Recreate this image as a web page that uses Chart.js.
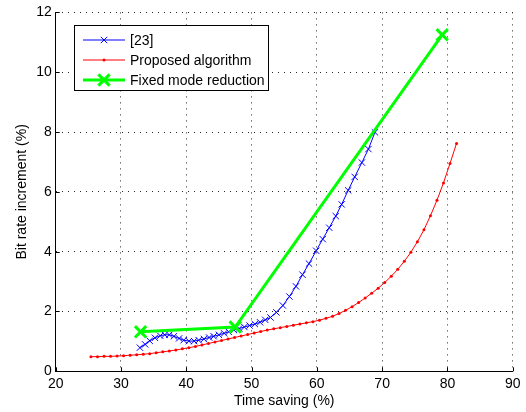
<!DOCTYPE html>
<html>
<head>
<meta charset="utf-8">
<script src="https://cdn.jsdelivr.net/npm/chart.js@4.4.1/dist/chart.umd.min.js"></script>
<style>
html, body { margin: 0; padding: 0; background: #fff; }
</style>
</head>
<body>
<canvas id="myChart" width="526" height="412"></canvas>
<script>
// data
var xTicks = [20, 30, 40, 50, 60, 70, 80, 90];
var yTicks = [0, 2, 4, 6, 8, 10, 12];

var labels1 = ['[23]', 'Proposed algorithm', 'Fixed mode reduction'];

var blueX = [32.9, 33.7, 34.4, 35.2, 36.0, 36.7, 37.4, 38.1, 38.9, 39.6, 40.4, 41.2, 41.9, 42.7, 43.5,
             44.2, 45.0, 45.8, 46.5, 47.3, 48.1, 48.9, 49.7, 50.5, 51.3, 52.1, 52.9, 53.8, 54.8, 55.8,
             56.8, 57.8, 58.8, 59.9, 60.9, 61.9, 62.9, 63.8, 64.8, 65.8, 66.9, 67.9, 68.9];
var blueY = [0.79, 0.90, 1.02, 1.12, 1.19, 1.22, 1.22, 1.17, 1.10, 1.04, 1.01, 1.01, 1.04, 1.08, 1.13,
             1.17, 1.22, 1.27, 1.32, 1.38, 1.43, 1.48, 1.53, 1.58, 1.64, 1.72, 1.80, 1.97, 2.20, 2.50,
             2.84, 3.23, 3.60, 4.03, 4.42, 4.80, 5.19, 5.58, 6.05, 6.50, 6.98, 7.43, 7.99];

var redX = [25.4, 26.4, 27.4, 28.4, 29.4, 30.4, 31.4, 32.4, 33.4, 34.4, 35.4, 36.4, 37.4, 38.4, 39.4,
            40.4, 41.4, 42.4, 43.4, 44.4, 45.4, 46.4, 47.4, 48.4, 49.4, 50.4, 51.4, 52.4, 53.4, 54.4,
            55.4, 56.4, 57.4, 58.4, 59.4, 60.4, 61.4, 62.4, 63.4, 64.4, 65.4, 66.4, 67.4, 68.4, 69.4,
            70.4, 71.4, 72.4, 73.4, 74.4, 75.4, 76.4, 77.4, 78.4, 79.4, 80.4, 81.4];
var redY = [0.49, 0.49, 0.50, 0.50, 0.51, 0.52, 0.54, 0.55, 0.57, 0.59, 0.62, 0.65, 0.68, 0.71, 0.75,
            0.79, 0.83, 0.88, 0.93, 0.98, 1.03, 1.08, 1.13, 1.18, 1.23, 1.28, 1.33, 1.38, 1.42, 1.46,
            1.50, 1.54, 1.58, 1.62, 1.66, 1.71, 1.77, 1.84, 1.93, 2.04, 2.16, 2.30, 2.45, 2.61, 2.78,
            2.97, 3.18, 3.41, 3.68, 3.98, 4.33, 4.73, 5.20, 5.72, 6.30, 6.95, 7.62];

var greenX = [33.0, 47.5, 79.2];
var greenY = [1.32, 1.48, 11.25];

function pts(xs, ys) {
    return xs.map(function (v, i) { return { x: v, y: ys[i] }; });
}

var font14 = { family: "'Liberation Sans', Arial, Helvetica, sans-serif", size: 14 };

// little inward ticks like matlab
var innerTicks = {
    id: 'innerTicks',
    afterDatasetsDraw: function (chart) {
        var ctx = chart.ctx, a = chart.chartArea, sx = chart.scales.x, sy = chart.scales.y;
        ctx.save();
        ctx.strokeStyle = '#000';
        ctx.lineWidth = 1;
        ctx.beginPath();
        xTicks.forEach(function (v) {
            var px = Math.round(sx.getPixelForValue(v)) + 0.5;
            ctx.moveTo(px, a.bottom);
            ctx.lineTo(px, a.bottom - 4);
        });
        yTicks.forEach(function (v) {
            var py = Math.round(sy.getPixelForValue(v)) + 0.5;
            ctx.moveTo(a.left, py);
            ctx.lineTo(a.left + 4, py);
        });
        ctx.stroke();
        ctx.restore();
    }
};

function drawMark(ctx, ds, x, y) {
    ctx.strokeStyle = ds.borderColor;
    ctx.fillStyle = ds.borderColor;
    if (ds.pointStyle === 'crossRot') {
        var h = ds.pointRadius * 0.707;
        ctx.lineWidth = ds.pointBorderWidth;
        ctx.beginPath();
        ctx.moveTo(x - h, y - h); ctx.lineTo(x + h, y + h);
        ctx.moveTo(x - h, y + h); ctx.lineTo(x + h, y - h);
        ctx.stroke();
    } else {
        ctx.beginPath();
        ctx.arc(x, y, ds.pointRadius, 0, Math.PI * 2);
        ctx.fill();
    }
}

// boxed legend top left
var legendBox = {
    id: 'legendBox',
    afterDraw: function (chart) {
        var ctx = chart.ctx;
        ctx.save();
        ctx.fillStyle = '#fff';
        ctx.fillRect(74.5, 25.5, 194, 65);
        ctx.strokeStyle = '#000';
        ctx.lineWidth = 1;
        ctx.strokeRect(74.5, 25.5, 194, 65);
        ctx.font = '14px ' + font14.family;
        ctx.textBaseline = 'middle';
        chart.data.datasets.forEach(function (ds, i) {
            var y = 40 + i * 20;
            ctx.strokeStyle = ds.borderColor;
            ctx.lineWidth = ds.borderWidth;
            ctx.beginPath();
            ctx.moveTo(83, y);
            ctx.lineTo(125, y);
            ctx.stroke();
            drawMark(ctx, ds, 104, y);
            ctx.fillStyle = '#000';
            ctx.fillText(ds.label, 130, y + 1);
        });
        ctx.restore();
    }
};

var myChart = document.getElementById('myChart').getContext('2d');
var chart1 = new Chart(myChart, {
    type: 'scatter',
    data: {
        datasets: [{
            label: labels1[0],
            data: pts(blueX, blueY),
            showLine: true,
            borderColor: '#0000ff',
            backgroundColor: '#0000ff',
            borderWidth: 1,
            pointStyle: 'crossRot',
            pointRadius: 4.5,
            pointBorderWidth: 1,
            order: 1
        }, {
            label: labels1[1],
            data: pts(redX, redY),
            showLine: true,
            borderColor: '#ff0000',
            backgroundColor: '#ff0000',
            borderWidth: 1,
            pointStyle: 'circle',
            pointRadius: 1.5,
            pointBorderWidth: 0,
            order: 2
        }, {
            label: labels1[2],
            data: pts(greenX, greenY),
            showLine: true,
            borderColor: '#00ff00',
            backgroundColor: '#00ff00',
            borderWidth: 3,
            pointStyle: 'crossRot',
            pointRadius: 8,
            pointBorderWidth: 3,
            order: 0
        }]
    },
    options: {
        responsive: false,
        animation: false,
        layout: { padding: { left: 0, right: 13.3, top: 11.7, bottom: 0 } },
        plugins: {
            legend: { display: false },
            tooltip: { enabled: false }
        },
        scales: {
            x: {
                type: 'linear',
                min: 20,
                max: 90,
                afterBuildTicks: function (s) { s.ticks = xTicks.map(function (v) { return { value: v }; }); },
                afterFit: function (s) { s.height = 40.7; },
                grid: { color: 'rgba(0,0,0,0.85)', lineWidth: 1, drawTicks: false },
                border: { display: true, color: '#000', width: 1, dash: [1, 5] },
                ticks: { color: '#000', font: font14, padding: 4, maxRotation: 0 },
                title: { display: true, text: 'Time saving (%)', color: '#000', font: font14, padding: { top: 2, bottom: 2 } }
            },
            y: {
                type: 'linear',
                min: 0,
                max: 12,
                afterBuildTicks: function (s) { s.ticks = yTicks.map(function (v) { return { value: v }; }); },
                afterFit: function (s) { s.width = 55.7; },
                grid: { color: 'rgba(0,0,0,0.85)', lineWidth: 1, drawTicks: false },
                border: { display: true, color: '#000', width: 1, dash: [1, 5] },
                ticks: { color: '#000', font: font14, padding: 4 },
                title: { display: true, text: 'Bit rate increment (%)', color: '#000', font: font14, padding: { top: 14, bottom: 0 } }
            }
        }
    },
    plugins: [innerTicks, legendBox]
});
</script>
</body>
</html>
